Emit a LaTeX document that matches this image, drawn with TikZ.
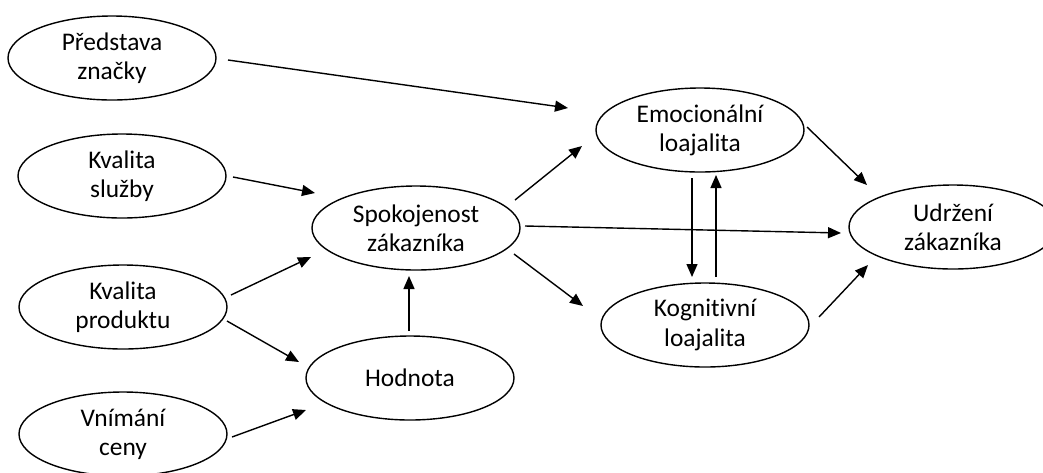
\documentclass[tikz,border=0pt]{standalone}
\usepackage{fontspec}
\setmainfont[Ligatures={NoCommon}]{Carlito}
\usetikzlibrary{shapes.geometric,arrows.meta,calc}
\begin{document}
\begin{tikzpicture}[x=0.5pt,y=-0.5pt,
  bub/.style={draw,ellipse,line width=0.7pt,minimum width=104pt,minimum height=42pt,inner sep=0pt,align=center,font=\fontsize{12.7pt}{14.6pt}\selectfont},
  arr/.style={line width=0.7pt,-{Triangle[length=6.5pt,width=5.5pt]}}]
\useasboundingbox (0,0) rectangle (1043,472);
\node[bub] (pz) at (112,58) {Představa\\značky};
\node[bub] (ks) at (122,176) {Kvalita\\služby};
\node[bub] (kp) at (123,307) {Kvalita\\produktu};
\node[bub] (vc) at (123,434) {Vnímání\\ceny};
\node[bub] (hod) at (410,378) {Hodnota};
\node[bub] (sp) at (416,228) {Spokojenost\\zákazníka};
\node[bub] (em) at (700,130) {Emocionální\\loajalita};
\node[bub] (kog) at (705,325) {Kognitivní\\loajalita};
\node[bub] (ud) at (953,227) {Udržení\\zákazníka};
\draw[arr] ($(pz.center)+(116,2)$) -- ($(em.center)+(-132,-22)$);
\draw[arr] ($(ks.center)+(111,1)$) -- ($(sp.center)+(-101,-35)$);
\draw[arr] ($(kp.center)+(108,-12)$) -- ($(sp.center)+(-105,29)$);
\draw[arr] ($(kp.center)+(104,14)$) -- ($(hod.center)+(-111,-16)$);
\draw[arr] ($(vc.center)+(109,3)$) -- ($(hod.center)+(-104,32)$);
\draw[arr] ($(hod.center)+(-1,-47)$) -- ($(sp.center)+(-7,48)$);
\draw[arr] ($(sp.center)+(99,-28)$) -- ($(em.center)+(-118,16)$);
\draw[arr] ($(sp.center)+(109,-2)$) -- ($(ud.center)+(-112,6)$);
\draw[arr] ($(sp.center)+(98,26)$) -- ($(kog.center)+(-122,-19)$);
\draw[arr] ($(em.center)+(-8,48)$) -- ($(kog.center)+(-13,-48)$);
\draw[arr] ($(kog.center)+(11,-48)$) -- ($(em.center)+(16,45)$);
\draw[arr] ($(em.center)+(107,-3)$) -- ($(ud.center)+(-86,-42)$);
\draw[arr] ($(kog.center)+(114,-8)$) -- ($(ud.center)+(-85,38)$);
\end{tikzpicture}
\end{document}
